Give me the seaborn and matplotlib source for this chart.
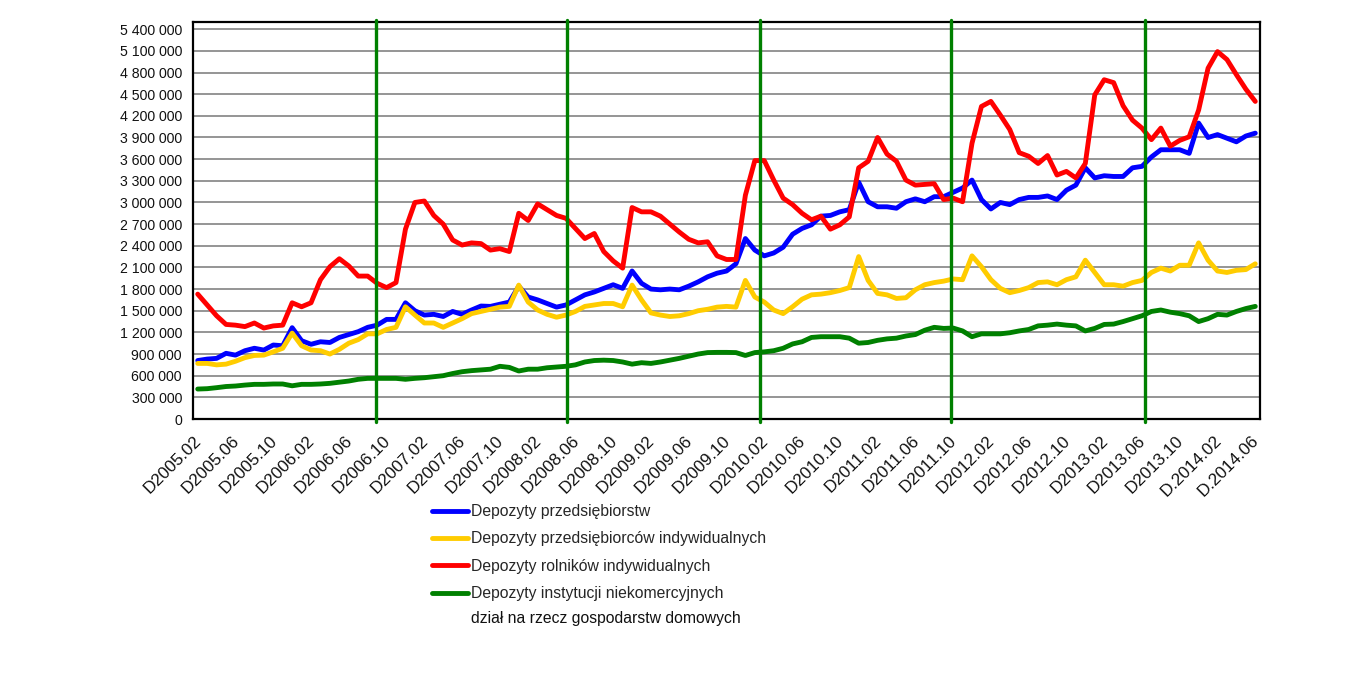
import matplotlib
matplotlib.use("Agg")
import matplotlib.pyplot as plt
import matplotlib.transforms as mtransforms
import seaborn as sns
import pandas as pd
import numpy as np
from matplotlib.lines import Line2D

# ---------------- data (values in thousands) ----------------
months = [f"D{y}.{m:02d}" for y in range(2005, 2015) for m in range(1, 13)]
months = months[1:months.index("D2014.06") + 1]  # 2005.02 .. 2014.06 (113 months)

tick_labels = ["D2005.02", "D2005.06", "D2005.10", "D2006.02", "D2006.06", "D2006.10",
               "D2007.02", "D2007.06", "D2007.10", "D2008.02", "D2008.06", "D2008.10",
               "D2009.02", "D2009.06", "D2009.10", "D2010.02", "D2010.06", "D2010.10",
               "D2011.02", "D2011.06", "D2011.10", "D2012.02", "D2012.06", "D2012.10",
               "D2013.02", "D2013.06", "D2013.10", "D.2014.02", "D.2014.06"]

przedsiebiorstw = [
    810, 830, 840, 910, 885, 946, 980, 955, 1025, 1015,
    1265, 1085, 1035, 1070, 1060, 1130, 1170, 1210, 1270, 1300,
    1380, 1380, 1610, 1500, 1440, 1450, 1420, 1490, 1450, 1510,
    1565, 1560, 1590, 1620, 1840, 1690, 1650, 1600, 1550, 1580,
    1650, 1720, 1760, 1810, 1860, 1810, 2050, 1880, 1800, 1790,
    1800, 1790, 1840, 1900, 1970, 2020, 2050, 2150, 2500, 2340,
    2260, 2300, 2380, 2560, 2640, 2690, 2810, 2820, 2870, 2900,
    3280, 3010, 2940, 2940, 2920, 3010, 3050, 3010, 3080, 3080,
    3140, 3200, 3310, 3040, 2910, 3000, 2970, 3040, 3070, 3070,
    3090, 3040, 3170, 3240, 3480, 3340, 3370, 3360, 3360, 3480,
    3500, 3630, 3730, 3730, 3730, 3680, 4100, 3900, 3940, 3890,
    3840, 3920, 3960]

przedsiebiorcow_ind = [
    770, 770, 750, 760, 800, 850, 880, 885, 930, 980,
    1190, 1015, 955, 946, 900, 965, 1050, 1100, 1180, 1180,
    1240, 1270, 1555, 1440, 1330, 1330, 1270, 1330, 1390, 1460,
    1490, 1520, 1550, 1560, 1855, 1620, 1510, 1450, 1410, 1440,
    1490, 1560, 1580, 1600, 1600, 1555, 1855, 1650, 1470, 1440,
    1420, 1430, 1460, 1500, 1520, 1550, 1560, 1550, 1920, 1690,
    1620, 1510, 1460, 1555, 1660, 1720, 1730, 1750, 1780, 1820,
    2250, 1920, 1740, 1720, 1670, 1680, 1790, 1860, 1890, 1910,
    1940, 1930, 2260, 2110, 1930, 1810, 1750, 1780, 1820, 1890,
    1900, 1860, 1930, 1970, 2200, 2030, 1860, 1860, 1840, 1890,
    1920, 2030, 2090, 2050, 2130, 2130, 2440, 2200, 2050, 2030,
    2060, 2070, 2150]

rolnikow_ind = [
    1730, 1580, 1430, 1310, 1300, 1280, 1330, 1260, 1290, 1300,
    1610, 1555, 1610, 1930, 2110, 2220, 2120, 1980, 1980, 1880,
    1820, 1890, 2630, 3000, 3020, 2820, 2700, 2480, 2410, 2440,
    2430, 2340, 2360, 2320, 2850, 2750, 2980, 2900, 2820, 2780,
    2640, 2500, 2570, 2320, 2190, 2090, 2930, 2870, 2870, 2810,
    2700, 2590, 2490, 2440, 2455, 2260, 2210, 2210, 3100, 3580,
    3580, 3310, 3060, 2970, 2850, 2760, 2810, 2630, 2690, 2800,
    3480, 3570, 3900, 3670, 3570, 3310, 3240, 3250, 3260, 3040,
    3060, 3010, 3820, 4330, 4400, 4210, 4010, 3690, 3640, 3540,
    3650, 3380, 3430, 3340, 3540, 4490, 4700, 4660, 4340, 4140,
    4030, 3870, 4030, 3780, 3860, 3910, 4280, 4860, 5090, 4980,
    4770, 4570, 4400]

instytucji = [
    415, 420, 434, 450, 457, 470, 480, 480, 485, 485,
    460, 480, 480, 485, 494, 510, 526, 550, 563, 563,
    563, 563, 550, 563, 572, 586, 600, 630, 655, 670,
    680, 690, 730, 715, 665, 690, 690, 710, 720, 730,
    750, 790, 810, 815, 810, 790, 760, 780, 770, 790,
    815, 840, 870, 900, 920, 923, 923, 920, 880, 920,
    930, 946, 980, 1040, 1070, 1130, 1140, 1140, 1140, 1120,
    1050, 1060, 1090, 1110, 1120, 1150, 1170, 1230, 1270, 1255,
    1260, 1220, 1140, 1180, 1180, 1180, 1195, 1220, 1240, 1290,
    1300, 1315, 1300, 1290, 1220, 1255, 1310, 1315, 1350, 1390,
    1430, 1490, 1510, 1480, 1460, 1430, 1350, 1390, 1450, 1440,
    1490, 1530, 1560]

series_names = ["Depozyty przedsiębiorstw",
                "Depozyty przedsiębiorców indywidualnych",
                "Depozyty rolników indywidualnych",
                "Depozyty instytucji niekomercyjnych"]
legend_extra_line = "dział na rzecz gospodarstw domowych"
colors = ["#0000FF", "#FFCC00", "#FF0000", "#008000"]

# vertical marker lines (period boundaries, in month-index units)
marker_positions = [18.9, 39.1, 59.6, 79.8, 100.3]

# ---------------- build frame ----------------
idx = list(range(len(months)))
frames = []
for name, vals in zip(series_names, [przedsiebiorstw, przedsiebiorcow_ind, rolnikow_ind, instytucji]):
    frames.append(pd.DataFrame({"x": idx, "miesiac": months, "value": np.array(vals) * 1000, "seria": name}))
df = pd.concat(frames, ignore_index=True)

# ---------------- plot ----------------
sns.set_style("white")
plt.rcParams["font.family"] = ["Liberation Sans", "DejaVu Sans"]

fig = plt.figure(figsize=(13.57, 6.97), dpi=100)
ax = fig.add_axes([193 / 1357, 1 - 419 / 697, (1260 - 193) / 1357, (419 - 22) / 697])

for yv in range(300000, 5400001, 300000):
    ax.axhline(yv, color="#8c8c8c", lw=1.3, zorder=0)

sns.lineplot(data=df, x="x", y="value", hue="seria", palette=colors, hue_order=series_names,
             linewidth=3.5, ax=ax, legend=False, zorder=3)

for p in marker_positions:
    ax.axvline(p, ymin=-0.008, ymax=1.005, color="#008000", lw=2.4, zorder=4, clip_on=False)

ax.set_xlim(-0.5, len(months) - 0.5)
ax.set_ylim(0, 5500000)

yt = list(range(0, 5400001, 300000))
ax.set_yticks(yt)
ax.set_yticklabels([f"{v:,}".replace(",", " ") for v in yt], fontsize=10.2, color="#111111")

ax.set_xticks([i - 0.5 for i in range(len(months) + 1)], minor=True)
lab_pos = [months.index(l.replace("D.", "D")) for l in tick_labels]
ax.set_xticks(lab_pos)
ax.set_xticklabels(tick_labels, rotation=45, ha="right", rotation_mode="anchor", fontsize=12.3, color="#111111")
ax.tick_params(axis="x", which="major", length=0, pad=10)
ax.tick_params(axis="x", which="minor", length=4, width=0.8, color="#555555", direction="out")
ax.tick_params(axis="y", length=4, width=0.8, color="#555555", direction="out", pad=4)
shift = mtransforms.ScaledTranslation(-4 / 100, 0, fig.dpi_scale_trans)
for lbl in ax.get_xticklabels():
    lbl.set_transform(lbl.get_transform() + shift)
ax.set_xlabel("")
ax.set_ylabel("")

for s in ax.spines.values():
    s.set_color("black")
    s.set_linewidth(1.6)

# legend
handles = [Line2D([0], [0], color=c, lw=3.5) for c in colors]
fig.legend(handles, series_names, loc="upper left", bbox_to_anchor=(432 / 1357, 1 - 504 / 697),
           frameon=False, fontsize=11.3, handlelength=2.3, handletextpad=0.2,
           labelspacing=0.79, borderpad=0, borderaxespad=0)
fig.text(471 / 1357, 1 - 618 / 697, legend_extra_line, fontsize=11.3, va="center", ha="left", color="#111111")

fig.savefig("out.png", dpi=100, facecolor="white")
